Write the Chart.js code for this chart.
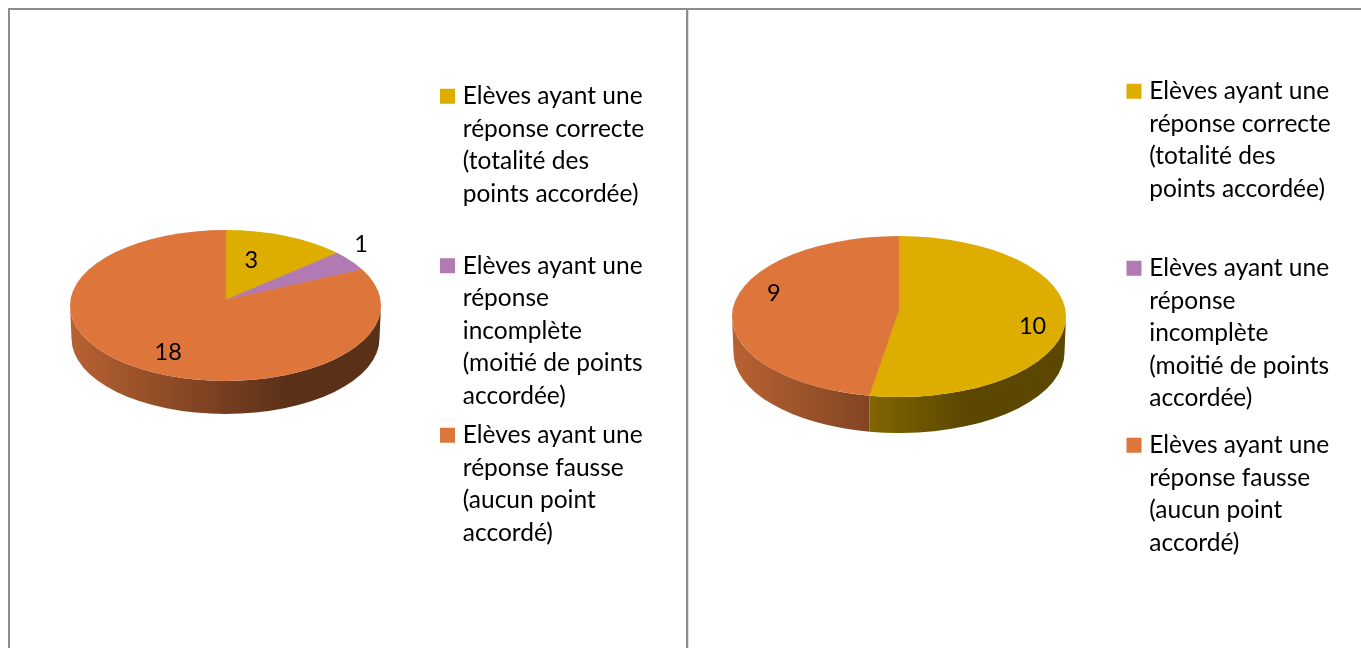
<!DOCTYPE html>
<html lang="fr">
<head>
<meta charset="utf-8">
<title>Réponses des élèves</title>
<script src="https://cdn.jsdelivr.net/npm/chart.js@4/dist/chart.umd.min.js"></script>
<style>
    html, body { margin: 0; padding: 0; background: #fff; overflow: hidden; }
    .page { position: relative; width: 1361px; height: 648px; }
    .rule { position: absolute; background: #8c8c8c; }
    canvas { position: absolute; top: 0; }
    #chartGauche { left: 0; }
    #chartDroite { left: 688px; }
</style>
</head>
<body>
<div class="page">
    <div class="rule" style="left:8px;top:8px;width:1353px;height:2px"></div>
    <div class="rule" style="left:8px;top:8px;width:2px;height:640px"></div>
    <div class="rule" style="left:686px;top:8px;width:2px;height:640px"></div>
    <div class="rule" style="left:688px;top:10px;width:1px;height:638px;background:#dcdcdc"></div>
    <canvas id="chartGauche" width="688" height="648"></canvas>
    <canvas id="chartDroite" width="673" height="648"></canvas>
</div>
<script>
// Données
const categories = [
    ['Elèves ayant une', 'réponse correcte', '(totalité des', 'points accordée)', ''],
    ['Elèves ayant une', 'réponse', 'incomplète', '(moitié de points', 'accordée)'],
    ['Elèves ayant une', 'réponse fausse', '(aucun point', 'accordé)']
];
const valeursGauche = [3, 1, 18];
const valeursDroite = [10, 0, 9];
const couleurs = ['#DDAE00', '#B27AB3', '#DE763C'];

const FONT = 'Lato, Carlito, Calibri, sans-serif';
const LEGEND_SIZE = 24.5;
const LABEL_SIZE = 23.5;

// Assombrit une couleur hexadécimale
function shade(hex, f) {
    const n = parseInt(hex.slice(1), 16);
    const c = [n >> 16, (n >> 8) & 255, n & 255].map(v => Math.round(v * f));
    return `rgb(${c[0]}, ${c[1]}, ${c[2]})`;
}

// Angle sur l'ellipse du point atteint par le rayon partant du sommet des parts
function angleOnRim(p, angle) {
    const k = p.ry / p.rx;
    const dx = Math.cos(angle);
    const dy = Math.sin(angle) * k;
    const oy = (p.apexY - p.cy) / p.ry;
    const a = (dx * dx) / (p.rx * p.rx) + (dy * dy) / (p.ry * p.ry);
    const b = 2 * oy * dy / p.ry;
    const c = oy * oy - 1;
    const t = (-b + Math.sqrt(b * b - 4 * a * c)) / (2 * a);
    return Math.atan2(oy + t * dy / p.ry, t * dx / p.rx);
}

// Faux camembert 3D : tranche dessinée dessous, parts aplaties dans l'ellipse
const pie3d = {
    id: 'pie3d',
    afterLayout(chart, args, p) {
        chart.legend.left = p.legendX;
        chart.legend.top = p.legendY;
    },
    beforeDatasetsDraw(chart, args, p) {
        const ctx = chart.ctx;
        chart.getDatasetMeta(0).data.forEach((arc, i) => {
            if (arc.endAngle - arc.startAngle === 0) return;
            let a0 = angleOnRim(p, arc.startAngle);
            let a1 = angleOnRim(p, arc.endAngle);
            if (a1 <= a0) a1 += Math.PI * 2;
            a0 = Math.max(a0, 0);
            a1 = Math.min(a1, Math.PI);
            if (a1 <= a0) return;

            const color = couleurs[i];
            const grad = ctx.createLinearGradient(p.cx - p.rx, 0, p.cx + p.rx, 0);
            grad.addColorStop(0, shade(color, 0.83));
            grad.addColorStop(0.7, shade(color, 0.41));
            grad.addColorStop(1, shade(color, 0.41));

            ctx.save();
            ctx.fillStyle = grad;
            ctx.beginPath();
            ctx.ellipse(p.cx, p.cy, p.rx, p.ry, 0, a0, a1);
            // le bas est un peu plus étroit (perspective)
            ctx.ellipse(p.cx, p.cy + p.depth, p.rx - 1.5, p.ry, 0, a1, a0, true);
            ctx.closePath();
            ctx.fill();
            ctx.restore();
        });
    },
    beforeDatasetDraw(chart, args, p) {
        const ctx = chart.ctx;
        const arc = chart.getDatasetMeta(0).data[0];
        ctx.save();
        ctx.beginPath();
        ctx.ellipse(p.cx, p.cy, p.rx, p.ry, 0, 0, Math.PI * 2);
        ctx.clip();
        ctx.translate(p.apexX, p.apexY);
        ctx.scale(1, p.ry / p.rx);
        ctx.translate(-arc.x, -arc.y);
    },
    afterDatasetDraw(chart) {
        chart.ctx.restore();
    },
    afterDatasetsDraw(chart, args, p) {
        const ctx = chart.ctx;
        const values = chart.data.datasets[0].data;
        ctx.save();
        ctx.font = `${LABEL_SIZE}px ${FONT}`;
        ctx.fillStyle = '#000';
        ctx.textAlign = 'center';
        ctx.textBaseline = 'middle';
        chart.getDatasetMeta(0).data.forEach((arc, i) => {
            if (!values[i]) return;
            const place = p.labels[i];
            const mid = (arc.startAngle + arc.endAngle) / 2 + place.turn * Math.PI / 180;
            const r = place.radius * p.rx;
            ctx.fillText(values[i],
                p.apexX + Math.cos(mid) * r,
                p.apexY + Math.sin(mid) * r * p.ry / p.rx + 1.5);
        });
        ctx.restore();
    }
};

function drawPie(id, values, geometry) {
    return new Chart(document.getElementById(id), {
        type: 'pie',
        plugins: [pie3d],
        data: {
            labels: categories,
            datasets: [{
                data: values,
                backgroundColor: couleurs,
                borderColor: couleurs,
                borderWidth: values.map(v => v ? 1 : 0),
                clip: false,
                radius: geometry.rx + 25
            }]
        },
        options: {
            responsive: false,
            animation: false,
            plugins: {
                tooltip: { enabled: false },
                pie3d: geometry,
                legend: {
                    position: 'right',
                    align: 'start',
                    labels: {
                        color: '#000',
                        font: { family: FONT, size: LEGEND_SIZE, lineHeight: 32.5 / LEGEND_SIZE },
                        boxWidth: 6,
                        boxHeight: 6,
                        padding: geometry.legendGap,
                        generateLabels(chart) {
                            const items = Chart.overrides.pie.plugins.legend.labels.generateLabels(chart);
                            items.forEach(item => {
                                item.strokeStyle = item.fillStyle;
                                item.lineWidth = 9;
                                item.hidden = false;
                            });
                            return items;
                        }
                    }
                }
            }
        }
    });
}

drawPie('chartGauche', valeursGauche, {
    apexX: 225.7, apexY: 300, cx: 225.5, cy: 305.5, rx: 155.5, ry: 75.5, depth: 33,
    legendX: 437.5, legendY: 77, legendGap: 7,
    labels: [{ radius: 0.566, turn: -7.7 }, { radius: 1.153, turn: -8.2 }, { radius: 0.77, turn: -4 }]
});

drawPie('chartDroite', valeursDroite, {
    apexX: 210.7, apexY: 310, cx: 211, cy: 316.5, rx: 167, ry: 80.5, depth: 36,
    legendX: 428.5, legendY: 64.5, legendGap: 14.5,
    labels: [{ radius: 0.823, turn: 8.3 }, { radius: 0, turn: 0 }, { radius: 0.78, turn: 11.8 }]
});
</script>
</body>
</html>
